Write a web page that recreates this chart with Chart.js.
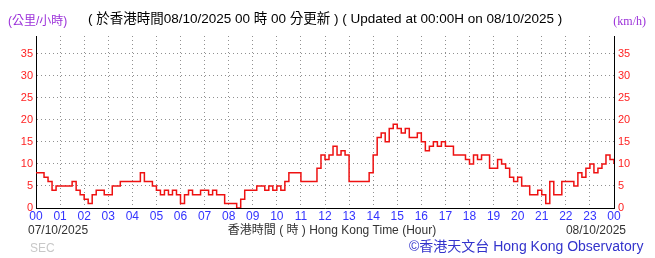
<!DOCTYPE html>
<html>
<head>
<meta charset="utf-8">
<script src="https://cdn.jsdelivr.net/npm/chart.js@4"></script>
<style>
  html, body { margin: 0; padding: 0; background: #fff; }
  #windChart { display: block; }
</style>
</head>
<body>
<canvas id="windChart" width="655" height="258"></canvas>
<script>
// Wind speed readings (km/h) every 10 minutes, 00:00 on 07/10 to 00:00 on 08/10
const windSpeed = [
  8, 8, 7, 6, 4, 5,   5, 5, 5, 6, 4, 3,   2, 1, 3, 4, 4, 3,   3, 5, 5, 6, 6, 6,
  6, 6, 8, 6, 6, 5,   4, 3, 4, 3, 4, 3,   1, 3, 4, 3, 3, 4,   4, 3, 4, 3, 3, 1,
  1, 1, 0, 2, 4, 4,   4, 5, 5, 4, 5, 4,   5, 4, 6, 8, 8, 8,   6, 6, 6, 6, 9, 12,
  11, 12, 14, 12, 13, 12,   6, 6, 6, 6, 6, 8,   12, 16, 17, 15, 18, 19,   18, 17, 18, 16, 16, 17,
  15, 13, 14, 15, 14, 15,   14, 14, 12, 12, 12, 11,   10, 12, 11, 12, 12, 9,   9, 11, 10, 9, 7, 6,
  7, 5, 5, 3, 3, 4,   3, 1, 6, 3, 3, 6,   6, 6, 5, 8, 7, 9,   10, 8, 9, 10, 12, 11,
  10
];
const stepMinutes = 10;
const hourLabels = ["00", "01", "02", "03", "04", "05", "06", "07", "08", "09", "10", "11",
  "12", "13", "14", "15", "16", "17", "18", "19", "20", "21", "22", "23", "00"];
const yTicks = [0, 5, 10, 15, 20, 25, 30, 35];
const yMax = 39;

const points = windSpeed.map((v, i) => ({ x: i * stepMinutes, y: v }));

const cjk = '"Liberation Sans", Arial, "Noto Sans CJK TC", sans-serif';

// extra texts round the plot
const labelsPlugin = {
  id: "labels",
  afterDraw(chart) {
    const ctx = chart.ctx;
    ctx.save();
    ctx.textBaseline = "middle";

    ctx.fillStyle = "#9b30d9";
    ctx.font = "12px " + cjk;
    ctx.textAlign = "left";
    ctx.fillText("(公里/小時)", 8, 22);
    ctx.font = '12px "Liberation Serif", serif';
    ctx.textAlign = "right";
    ctx.fillText("(km/h)", 646, 22);

    ctx.fillStyle = "#000";
    ctx.font = "13.5px " + cjk;
    ctx.textAlign = "left";
    ctx.fillText("( 於香港時間08/10/2025 00 時 00 分更新 ) ( Updated at 00:00H on 08/10/2025 )", 88, 19);

    ctx.fillStyle = "#333";
    ctx.font = "12px " + cjk;
    ctx.fillText("07/10/2025", 28, 231);
    ctx.textAlign = "center";
    ctx.fillText("香港時間 ( 時 ) Hong Kong Time (Hour)", 332, 231);
    ctx.textAlign = "right";
    ctx.fillText("08/10/2025", 626, 231);

    ctx.textAlign = "left";
    ctx.fillStyle = "#c8c8c8";
    ctx.fillText("SEC", 30, 249);

    ctx.fillStyle = "#3333cc";
    ctx.font = "14px " + cjk;
    ctx.fillText("©香港天文台 Hong Kong Observatory", 409, 247);
    ctx.restore();
  },
};

function onlyFives(scale) {
  scale.ticks = scale.ticks.filter((t) => yTicks.includes(t.value));
}

const ctx = document.getElementById("windChart").getContext("2d");
new Chart(ctx, {
  type: "line",
  data: {
    datasets: [
      {
        data: points,
        borderColor: "#ee1111",
        borderWidth: 1.5,
        pointRadius: 0,
        stepped: true,
        fill: false,
      },
    ],
  },
  options: {
    responsive: false,
    animation: false,
    layout: { padding: { top: 36, left: 0, right: 0, bottom: 0 } },
    plugins: { legend: { display: false }, tooltip: { enabled: false } },
    scales: {
      x: {
        type: "linear",
        min: 0,
        max: 1440,
        afterFit: (s) => { s.height = 50; },
        afterBuildTicks: (s) => {
          s.ticks = hourLabels.map((_, i) => ({ value: i * 60 }));
        },
        ticks: {
          autoSkip: false,
          maxRotation: 0,
          padding: 1,
          color: "#3333ff",
          font: { family: "Liberation Sans", size: 12 },
          callback: (v) => hourLabels[Math.round(v / 60)],
        },
        grid: { color: "#909090", drawTicks: false, lineWidth: 1 },
        border: { color: "#000", width: 1, dash: [1, 3] },
      },
      y: {
        position: "left",
        min: 0,
        max: yMax,
        afterFit: (s) => { s.width = 36; },
        afterBuildTicks: onlyFives,
        ticks: {
          stepSize: 5,
          padding: 3,
          color: "#ff2222",
          font: { family: "Liberation Sans", size: 11 },
        },
        grid: { color: "#909090", drawTicks: false, lineWidth: 1 },
        border: { color: "#000", width: 1, dash: [1, 3] },
      },
      y2: {
        position: "right",
        min: 0,
        max: yMax,
        afterFit: (s) => { s.width = 41; },
        afterBuildTicks: onlyFives,
        ticks: {
          stepSize: 5,
          padding: 4,
          color: "#ff2222",
          font: { family: "Liberation Sans", size: 11 },
        },
        grid: { display: false, drawTicks: false },
        border: { color: "#000", width: 1 },
      },
    },
  },
  plugins: [labelsPlugin],
});
</script>
</body>
</html>
